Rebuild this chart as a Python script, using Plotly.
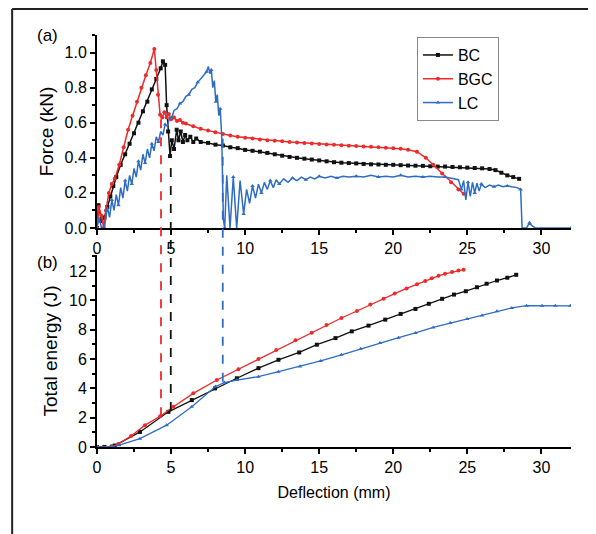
import plotly.graph_objects as go

# ---------------- data: panel (a) force vs deflection ----------------
bc_force_x = [0.0, 0.1, 0.3, 0.5, 0.7, 0.9, 1.1, 1.3,
              1.6, 1.9, 2.2, 2.5, 2.8,
              3.1, 3.4, 3.7, 4.0, 4.3,
              4.45, 4.6, 4.7, 4.8, 4.93,
              5.05, 5.2, 5.38, 5.5, 5.65, 5.8, 5.95,
              6.1, 6.3, 6.5, 6.7, 7.0, 7.5,
              8.0, 8.5, 9.0, 9.5, 10.0, 10.5, 11.0, 11.5, 12.0, 12.5,
              13.0, 13.5, 14.0, 14.5, 15.0, 15.5, 16.0, 16.5, 17.0, 17.5,
              18.0, 18.5, 19.0, 19.5, 20.0, 20.5, 21.0, 21.5, 22.0, 22.5,
              23.0, 23.5, 24.0, 24.5, 25.0, 25.5, 26.0, 26.5,
              26.9, 27.3, 27.7, 28.1, 28.5]
bc_force_y = [0.0, 0.13, 0.04, 0.06, 0.12, 0.18, 0.24, 0.29,
              0.36, 0.42, 0.48, 0.54, 0.60,
              0.665, 0.72, 0.79, 0.85, 0.91,
              0.95, 0.93, 0.70, 0.55, 0.41,
              0.50, 0.45, 0.56, 0.50, 0.55, 0.49, 0.53,
              0.50, 0.52, 0.49, 0.51, 0.49, 0.485,
              0.475, 0.47, 0.46, 0.455, 0.445, 0.44, 0.435, 0.428, 0.42, 0.412,
              0.405, 0.40, 0.395, 0.39, 0.385, 0.38, 0.375, 0.372, 0.37, 0.368,
              0.365, 0.363, 0.362, 0.36, 0.36, 0.358, 0.356, 0.355, 0.354, 0.352,
              0.35, 0.35, 0.348, 0.346, 0.344, 0.342, 0.34, 0.336,
              0.33, 0.315, 0.30, 0.29, 0.28]

bgc_force_x = [0.0, 0.12, 0.3, 0.45, 0.6, 0.8,
               1.0, 1.2, 1.5, 1.8,
               2.1, 2.4, 2.7, 3.0, 3.3,
               3.6, 3.87, 4.0, 4.12, 4.26,
               4.4, 4.55, 4.7, 4.85, 5.0,
               5.2, 5.4, 5.6, 5.8, 6.0,
               6.5, 7.0, 7.5, 8.0, 8.5, 9.0, 9.5, 10.0, 10.5, 11.0,
               11.5, 12.0, 12.5, 13.0, 13.5, 14.0, 14.5, 15.0, 15.5, 16.0,
               16.5, 17.0, 17.5, 18.0, 18.5, 19.0, 19.5, 20.0, 20.5, 21.0,
               21.6, 22.2, 22.7, 23.3, 23.9, 24.4, 24.75]
bgc_force_y = [0.0, 0.12, 0.07, 0.0, 0.1, 0.2,
               0.25, 0.28, 0.36, 0.46,
               0.56, 0.64, 0.72, 0.80, 0.87,
               0.94, 1.02, 0.90, 0.76, 0.645,
               0.63, 0.66, 0.63, 0.65, 0.62,
               0.63, 0.61, 0.615, 0.60, 0.595,
               0.58, 0.565, 0.555, 0.545, 0.535, 0.527, 0.52, 0.515, 0.51, 0.505,
               0.50, 0.497, 0.494, 0.49, 0.487, 0.484, 0.481, 0.478, 0.476, 0.474,
               0.471, 0.469, 0.467, 0.465, 0.463, 0.46, 0.458, 0.455, 0.451, 0.446,
               0.435, 0.40, 0.36, 0.31, 0.26, 0.22, 0.195]

lc_force_x = [0.0, 0.15, 0.3, 0.5, 0.7, 0.85,
              1.0, 1.15, 1.3, 1.45, 1.6, 1.75, 1.9,
              2.05, 2.2, 2.35, 2.5, 2.65, 2.8, 2.95,
              3.1, 3.25, 3.4, 3.55, 3.7, 3.85,
              4.0, 4.15, 4.3, 4.45, 4.6, 4.75, 4.9,
              5.05, 5.2, 5.4, 5.6, 5.8,
              6.0, 6.2, 6.4, 6.6, 6.8,
              7.0, 7.2, 7.4, 7.52, 7.62, 7.72, 7.82, 7.92,
              8.02, 8.12, 8.22, 8.32, 8.42, 8.53, 8.62, 8.76, 8.98,
              9.2, 9.43, 9.66, 9.9,
              10.1, 10.3, 10.5, 10.7, 10.9,
              11.1, 11.3, 11.5, 11.7, 11.9,
              12.1, 12.3, 12.6, 12.9,
              13.2, 13.5, 13.8,
              14.1, 14.4, 14.7,
              15.0, 15.4, 15.8,
              16.2, 16.6, 17.0, 17.5, 18.0, 18.5, 19.0, 19.5, 20.0, 20.5,
              21.0, 21.5, 22.0, 22.5, 23.0, 23.5,
              24.0, 24.4, 24.6, 24.75, 24.9,
              25.05, 25.2, 25.35, 25.5, 25.65, 25.8, 25.95,
              26.2, 26.5, 26.8, 27.1, 27.4, 27.7,
              28.0, 28.35, 28.6, 28.7,
              29.0, 29.2, 29.4, 29.6, 32.0]
lc_force_y = [0.0, 0.06, 0.0, 0.0, 0.12, 0.06,
              0.16, 0.10, 0.19, 0.13, 0.23, 0.17, 0.27,
              0.21, 0.30, 0.25, 0.34, 0.29, 0.38, 0.33,
              0.42, 0.37, 0.45, 0.40, 0.48, 0.44,
              0.52, 0.49, 0.55, 0.53, 0.59, 0.58, 0.63,
              0.63, 0.67, 0.68, 0.71, 0.72,
              0.75, 0.76, 0.79, 0.80, 0.83,
              0.85, 0.87, 0.89, 0.92, 0.88, 0.90, 0.80, 0.84,
              0.72, 0.76, 0.64, 0.68, 0.52, 0.05, 0.0, 0.30, 0.0,
              0.29, 0.0, 0.27, 0.08,
              0.22, 0.14, 0.24, 0.17, 0.25,
              0.20, 0.26, 0.22, 0.27, 0.23,
              0.275, 0.25, 0.28, 0.26,
              0.285, 0.27, 0.29,
              0.275, 0.29, 0.28,
              0.295, 0.285, 0.295,
              0.285, 0.295, 0.29, 0.295, 0.29, 0.30, 0.29, 0.295, 0.29, 0.30,
              0.29, 0.295, 0.29, 0.295, 0.29, 0.29,
              0.28, 0.275, 0.22, 0.27, 0.16,
              0.26, 0.18, 0.26, 0.20, 0.255, 0.21, 0.25,
              0.23, 0.245, 0.235, 0.245, 0.235, 0.24,
              0.235, 0.23, 0.22, 0.0,
              0.0, 0.03, 0.01, 0.0, 0.0]

# ---------------- data: panel (b) total energy vs deflection ----------------
bc_energy_x = [0.0, 0.5, 1.0, 1.2, 2.9, 4.82, 6.4, 7.97, 9.44, 10.9, 12.25, 13.65,
               14.84, 16.1, 17.2, 18.33, 19.46, 20.5, 21.5, 22.4, 23.3, 24.1,
               24.9, 25.65, 26.3, 27.0, 27.7, 28.3]
bc_energy_y = [0.0, 0.0, 0.03, 0.1, 1.03, 2.4, 3.2, 4.0, 4.69, 5.38, 5.95, 6.45,
               6.98, 7.43, 7.89, 8.28, 8.69, 9.08, 9.42, 9.77, 10.11, 10.4,
               10.63, 10.9, 11.14, 11.36, 11.55, 11.75]

bgc_energy_x = [0.0, 1.0, 1.44, 2.3, 3.24, 4.26, 5.16, 6.5, 8.09, 9.55, 10.9, 12.1,
                13.4, 14.5, 15.5, 16.5, 17.55, 18.45, 19.35, 20.1, 20.9, 21.6,
                22.16, 22.6, 23.06, 23.5, 23.97, 24.4, 24.75]
bgc_energy_y = [0.0, 0.02, 0.2, 0.75, 1.49, 2.1, 2.74, 3.66, 4.57, 5.3, 6.0, 6.62,
                7.28, 7.8, 8.32, 8.8, 9.28, 9.72, 10.12, 10.47, 10.82, 11.1,
                11.33, 11.52, 11.68, 11.82, 11.94, 12.04, 12.1]

lc_energy_x = [0.0, 1.0, 1.5, 2.9, 4.7, 6.4, 8.0, 8.6, 9.44, 10.9, 12.25, 13.7,
               15.1, 16.5, 17.8, 19.1, 20.36, 21.5, 22.7, 23.85, 24.98, 26.0,
               27.0, 28.0, 29.0, 30.05, 30.95, 31.96]
lc_energy_y = [0.0, 0.02, 0.12, 0.57, 1.49, 2.74, 4.12, 4.4, 4.57, 4.8, 5.14, 5.49,
               5.87, 6.29, 6.7, 7.09, 7.46, 7.78, 8.16, 8.46, 8.74, 8.98,
               9.26, 9.49, 9.64, 9.63, 9.63, 9.63]

# failure deflection guides (dashed): x, force at upper end, energy at lower end
guide_names = ["BC", "BGC", "LC"]
guide_x = [4.98, 4.32, 8.49]
guide_force = [0.39, 0.636, 0.51]
guide_energy = [2.45, 2.1, 4.45]

series_names = ["BC", "BGC", "LC"]
colors = {"BC": "#111111", "BGC": "#ee2a2a", "LC": "#2f6cc4"}
symbols = {"BC": "square", "BGC": "circle", "LC": "triangle-up"}

FONT = "Arial, 'Liberation Sans', sans-serif"
X_RANGE = [0, 32]
Y1_RANGE = [0, 1.1]
Y2_RANGE = [0, 13.1]
Y1_DOMAIN = [0.5316, 1.0]
Y2_DOMAIN = [0.0, 0.466]

fig = go.Figure()

force = {"BC": (bc_force_x, bc_force_y), "BGC": (bgc_force_x, bgc_force_y),
         "LC": (lc_force_x, lc_force_y)}
energy = {"BC": (bc_energy_x, bc_energy_y), "BGC": (bgc_energy_x, bgc_energy_y),
          "LC": (lc_energy_x, lc_energy_y)}
maxdisp = {"BC": 0, "BGC": 0, "LC": 45}

for name in series_names:
    fx, fy = force[name]
    fig.add_trace(go.Scatter(
        x=fx, y=fy, name=name, mode="lines+markers", xaxis="x", yaxis="y",
        line=dict(color=colors[name], width=1.5),
        marker=dict(symbol=symbols[name], size=4, color=colors[name],
                    maxdisplayed=maxdisp[name]),
        showlegend=True))

for name in series_names:
    ex, ey = energy[name]
    fig.add_trace(go.Scatter(
        x=ex, y=ey, name=name, mode="lines+markers", xaxis="x2", yaxis="y2",
        line=dict(color=colors[name], width=1.3),
        marker=dict(symbol=symbols[name], size=4, color=colors[name]),
        showlegend=False))


def to_paper(v, rng, dom):
    return dom[0] + (v - rng[0]) / (rng[1] - rng[0]) * (dom[1] - dom[0])


shapes = []
for n, gx, gf, ge in zip(guide_names, guide_x, guide_force, guide_energy):
    shapes.append(dict(type="line", xref="x", yref="paper", x0=gx, x1=gx,
                       y0=to_paper(ge, Y2_RANGE, Y2_DOMAIN),
                       y1=to_paper(gf, Y1_RANGE, Y1_DOMAIN),
                       line=dict(color=colors[n], width=1.8, dash="dash"),
                       layer="above"))
# outer figure frame (left and top edges)
shapes.append(dict(type="line", xref="paper", yref="paper", x0=-0.179, x1=-0.179,
                   y0=-0.3, y1=1.063, line=dict(color="#222222", width=2)))
shapes.append(dict(type="line", xref="paper", yref="paper", x0=-0.179, x1=1.1,
                   y0=1.063, y1=1.063, line=dict(color="#222222", width=2)))

axis_common = dict(
    showline=True, linecolor="black", linewidth=2, ticks="outside", ticklen=5,
    tickwidth=1.5, tickcolor="black", showgrid=False, zeroline=False,
    tickfont=dict(family=FONT, size=16, color="black"), mirror=False,
)

fig.update_layout(
    width=596, height=534,
    margin=dict(l=89, r=33, t=27, b=95),
    paper_bgcolor="white", plot_bgcolor="white",
    font=dict(family=FONT, size=16, color="black"),
    xaxis=dict(domain=[0, 1], anchor="y", range=X_RANGE, dtick=5,
               minor=dict(dtick=2.5, ticks="outside", ticklen=3, tickcolor="black"),
               **axis_common),
    yaxis=dict(domain=Y1_DOMAIN, anchor="x", range=Y1_RANGE, dtick=0.2,
               tickformat=".1f",
               minor=dict(dtick=0.1, ticks="outside", ticklen=3, tickcolor="black"),
               title=dict(text="Force (kN)", font=dict(family=FONT, size=19),
                          standoff=6),
               **axis_common),
    xaxis2=dict(domain=[0, 1], anchor="y2", range=X_RANGE, dtick=5,
                minor=dict(dtick=2.5, ticks="outside", ticklen=3, tickcolor="black"),
                title=dict(text="Deflection (mm)", font=dict(family=FONT, size=16),
                           standoff=12),
                **axis_common),
    yaxis2=dict(domain=Y2_DOMAIN, anchor="x2", range=Y2_RANGE, dtick=2,
                minor=dict(dtick=1, ticks="outside", ticklen=3, tickcolor="black"),
                title=dict(text="Total energy (J)", font=dict(family=FONT, size=19),
                           standoff=6),
                **axis_common),
    legend=dict(x=0.675, y=0.995, xanchor="left", yanchor="top",
                bordercolor="#888888", borderwidth=1, bgcolor="rgba(255,255,255,0.9)",
                font=dict(family=FONT, size=16, color="black"),
                tracegroupgap=0),
    shapes=shapes,
    annotations=[
        dict(text="(a)", xref="paper", yref="paper", x=-0.105, y=1.0,
             xanchor="center", yanchor="middle", showarrow=False,
             font=dict(family=FONT, size=17, color="black")),
        dict(text="(b)", xref="paper", yref="paper", x=-0.105, y=0.447,
             xanchor="center", yanchor="middle", showarrow=False,
             font=dict(family=FONT, size=17, color="black")),
    ],
)

fig.write_html("out.html")
